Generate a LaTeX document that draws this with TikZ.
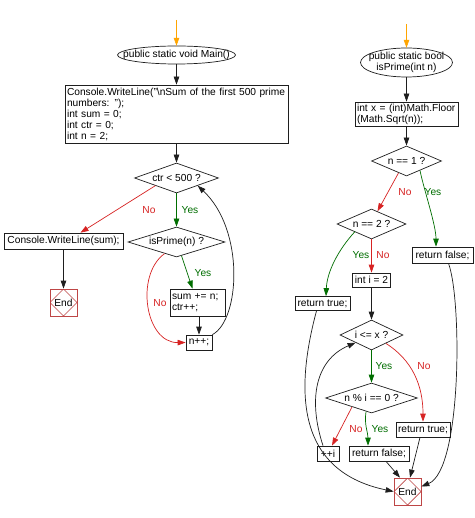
\documentclass[tikz,border=0pt]{standalone}
\usepackage{fontspec}
\setmainfont{Liberation Sans}
\usetikzlibrary{shapes.geometric,arrows.meta,calc}
\definecolor{lc}{RGB}{30,30,30}
\definecolor{gr}{RGB}{0,110,0}
\definecolor{rd}{RGB}{215,35,35}
\definecolor{endc}{RGB}{190,70,70}
\definecolor{org}{RGB}{255,165,0}
\newcommand{\myfont}{\fontsize{10.2}{11}\selectfont}
\begin{document}
\begin{tikzpicture}[x=1pt,y=-1pt,
  every node/.style={font=\myfont},
  box/.style={draw=lc, line width=0.7pt, rectangle, inner xsep=2pt, inner ysep=1pt, align=left},
  dec/.style={draw=lc, line width=0.7pt, diamond, aspect=2.8, inner sep=0pt},
  ell/.style={rectangle, inner sep=0pt, align=center},
  endn/.style={draw=endc, line width=0.7pt, rectangle, minimum width=27pt, minimum height=27pt, inner sep=0pt,
    path picture={\draw[endc,line width=0.7pt] (path picture bounding box.north) -- (path picture bounding box.east) -- (path picture bounding box.south) -- (path picture bounding box.west) -- cycle;}},
  arr/.style={line width=0.7pt, draw=lc, -{Triangle[length=8pt,width=5.5pt]}},
  garr/.style={arr, draw=gr},
  rarr/.style={arr, draw=rd},
  oarr/.style={arr, draw=org},
  glab/.style={text=gr, inner sep=0pt},
  rlab/.style={text=rd, inner sep=0pt},
  shp/.style={draw=lc, line width=0.7pt}
]
\fill[white] (0,0) rectangle (474,518);
\useasboundingbox (0,0) rectangle (474,518);

% ---------- left: Main ----------
\coordinate (s1) at (176.5,20);
\node[ell, minimum width=118pt, minimum height=18pt] (mainE) at (176.5,55) {public static void Main()};
\draw[shp] (mainE.center) ellipse [x radius=59, y radius=9];
\node[box, minimum width=223pt, minimum height=58pt, text width=219pt] (box1) at (176.5,114)
  {Console.WriteLine("\textbackslash nSum of the first 500 prime\\numbers: ");\\int sum = 0;\\int ctr = 0;\\int n = 2;};
\node[dec, minimum width=84pt, minimum height=30pt] (ctr) at (176.5,178) {ctr < 500 ?};
\node[box, minimum width=119pt, minimum height=16pt] (cw) at (63.5,241) {Console.WriteLine(sum);};
\node[dec, minimum width=97pt, minimum height=30pt] (isP) at (176.5,242) {isPrime(n) ?};
\node[endn] (endL) at (63.5,302.5) {End};
\node[box, minimum width=55pt, minimum height=27pt, text width=51pt] (sum) at (197.5,302.5) {sum += n;\\ctr++;};
\node[box, minimum width=26pt, minimum height=15pt] (npp) at (199,342.5) {n++;};

\draw[oarr] (s1) -- (mainE.north);
\draw[arr] (mainE.south) -- (box1.north);
\draw[arr] (box1.south) -- (ctr.north);
\draw[garr] (ctr.south) -- (isP.north);
\draw[rarr] (ctr.south west) -- ([xshift=17pt]cw.north);
\draw[garr] ($(isP.south)+(5,-1.5)$) -- ([xshift=-5pt]sum.north);
\draw[rarr] ($(isP.south)+(-12,-3.7)$) .. controls (135,275) and (145,343) .. (npp.west);
\draw[arr] (npp.north |- sum.south) -- (npp.north);
\draw[arr] (npp.north east) .. controls (240,320) and (245,230) .. (ctr.south east);
\draw[arr] (cw.south) -- (endL.north);

\node[rlab] (l1) at (149,210) {No};
\node[glab] (l2) at (190,210) {Yes};
\node[glab] (l3) at (203,273) {Yes};
\node[rlab] (l4) at (160,303) {No};

% ---------- right: isPrime ----------
\coordinate (s2) at (406.5,24);
\node[ell, minimum width=92pt, minimum height=29pt] (ipE) at (406.5,62.5) {public static bool\\isPrime(int n)};
\draw[shp] (ipE.center) ellipse [x radius=46, y radius=14.5];
\node[box, minimum width=103pt, minimum height=24pt, text width=99pt] (box2) at (406.5,114) {int x = (int)Math.Floor\\(Math.Sqrt(n));};
\node[dec, minimum width=70pt, minimum height=30pt] (n1) at (406.5,161) {n == 1 ?};
\node[dec, minimum width=69pt, minimum height=30pt] (n2) at (371.5,224) {n == 2 ?};
\node[box, minimum width=61pt, minimum height=16pt] (rf1) at (442.5,255) {return false;};
\node[box, minimum width=55pt, minimum height=14pt] (rt1) at (322.5,303.5) {return true;};
\node[box, minimum width=38pt, minimum height=14pt] (i2) at (371.5,280) {int i = 2};
\node[dec, minimum width=63pt, minimum height=30pt] (ix) at (371.5,335) {i <= x ?};
\node[dec, minimum width=92pt, minimum height=30pt] (nmod) at (371.5,398) {n \% i == 0 ?};
\node[box, minimum width=54pt, minimum height=15pt] (rt2) at (423,429.5) {return true;};
\node[box, minimum width=22pt, minimum height=15pt] (ppi) at (328,453.5) {++i};
\node[box, minimum width=60pt, minimum height=15pt] (rf2) at (379,453.5) {return false;};
\node[endn] (endR) at (407.5,491.5) {End};

\draw[oarr] (s2) -- (ipE.north);
\draw[arr] (ipE.south) -- (box2.north);
\draw[arr] (box2.south) -- (n1.north);
\draw[rarr] ($(n1.south)+(-8,-3.4)$) -- ($(n2.north)+(6,2.6)$);
\draw[garr] ($(n1.south)+(13.5,-5.8)$) .. controls (424,190) and (436,225) .. ([xshift=-6.5pt]rf1.north);
\draw[garr] ($(n2.south)+(-16.5,-7.8)$) .. controls (338,250) and (327,272) .. ([xshift=3.5pt]rt1.north);
\draw[rarr] (n2.south) -- (i2.north);
\draw[arr] (i2.south) -- (ix.north);
\draw[garr] (ix.south) -- (nmod.north);
\draw[rarr] ($(ix.south)+(14.5,-6.9)$) .. controls (412,360) and (423,385) .. (rt2.north);
\draw[rarr] ($(nmod.south)+(-19.5,-6.4)$) -- ([xshift=4pt]ppi.north);
\draw[garr] ($(nmod.south)+(-5.5,-1.8)$) .. controls (364,425) and (368,432) .. ([xshift=-11pt]rf2.north);
\draw[arr] ([xshift=-5pt]ppi.north) .. controls (308,400) and (315,360) .. (ix.south west);
\draw[arr] ([xshift=7pt]rf2.south) -- ([xshift=-7.5pt]endR.north);
\draw[arr] ([xshift=-3pt]rt2.south) -- ([xshift=2.5pt]endR.north);
\draw[arr] ([xshift=-6pt]rt1.south) .. controls (298,380) and (290,470) .. (endR.west);
\draw[arr] ([xshift=6pt]rf1.south) .. controls (462,300) and (462,470) .. ($(endR.east)+(0,-5)$);

\node[rlab] (l5) at (405,192) {No};
\node[glab] (l6) at (433,192) {Yes};
\node[glab] (l7) at (361,255) {Yes};
\node[rlab] (l8) at (383,255) {No};
\node[glab] (l9) at (384,366) {Yes};
\node[rlab] (l10) at (424,366) {No};
\node[rlab] (l11) at (356,429) {No};
\node[glab] (l12) at (380,429) {Yes};
\end{tikzpicture}
\end{document}
